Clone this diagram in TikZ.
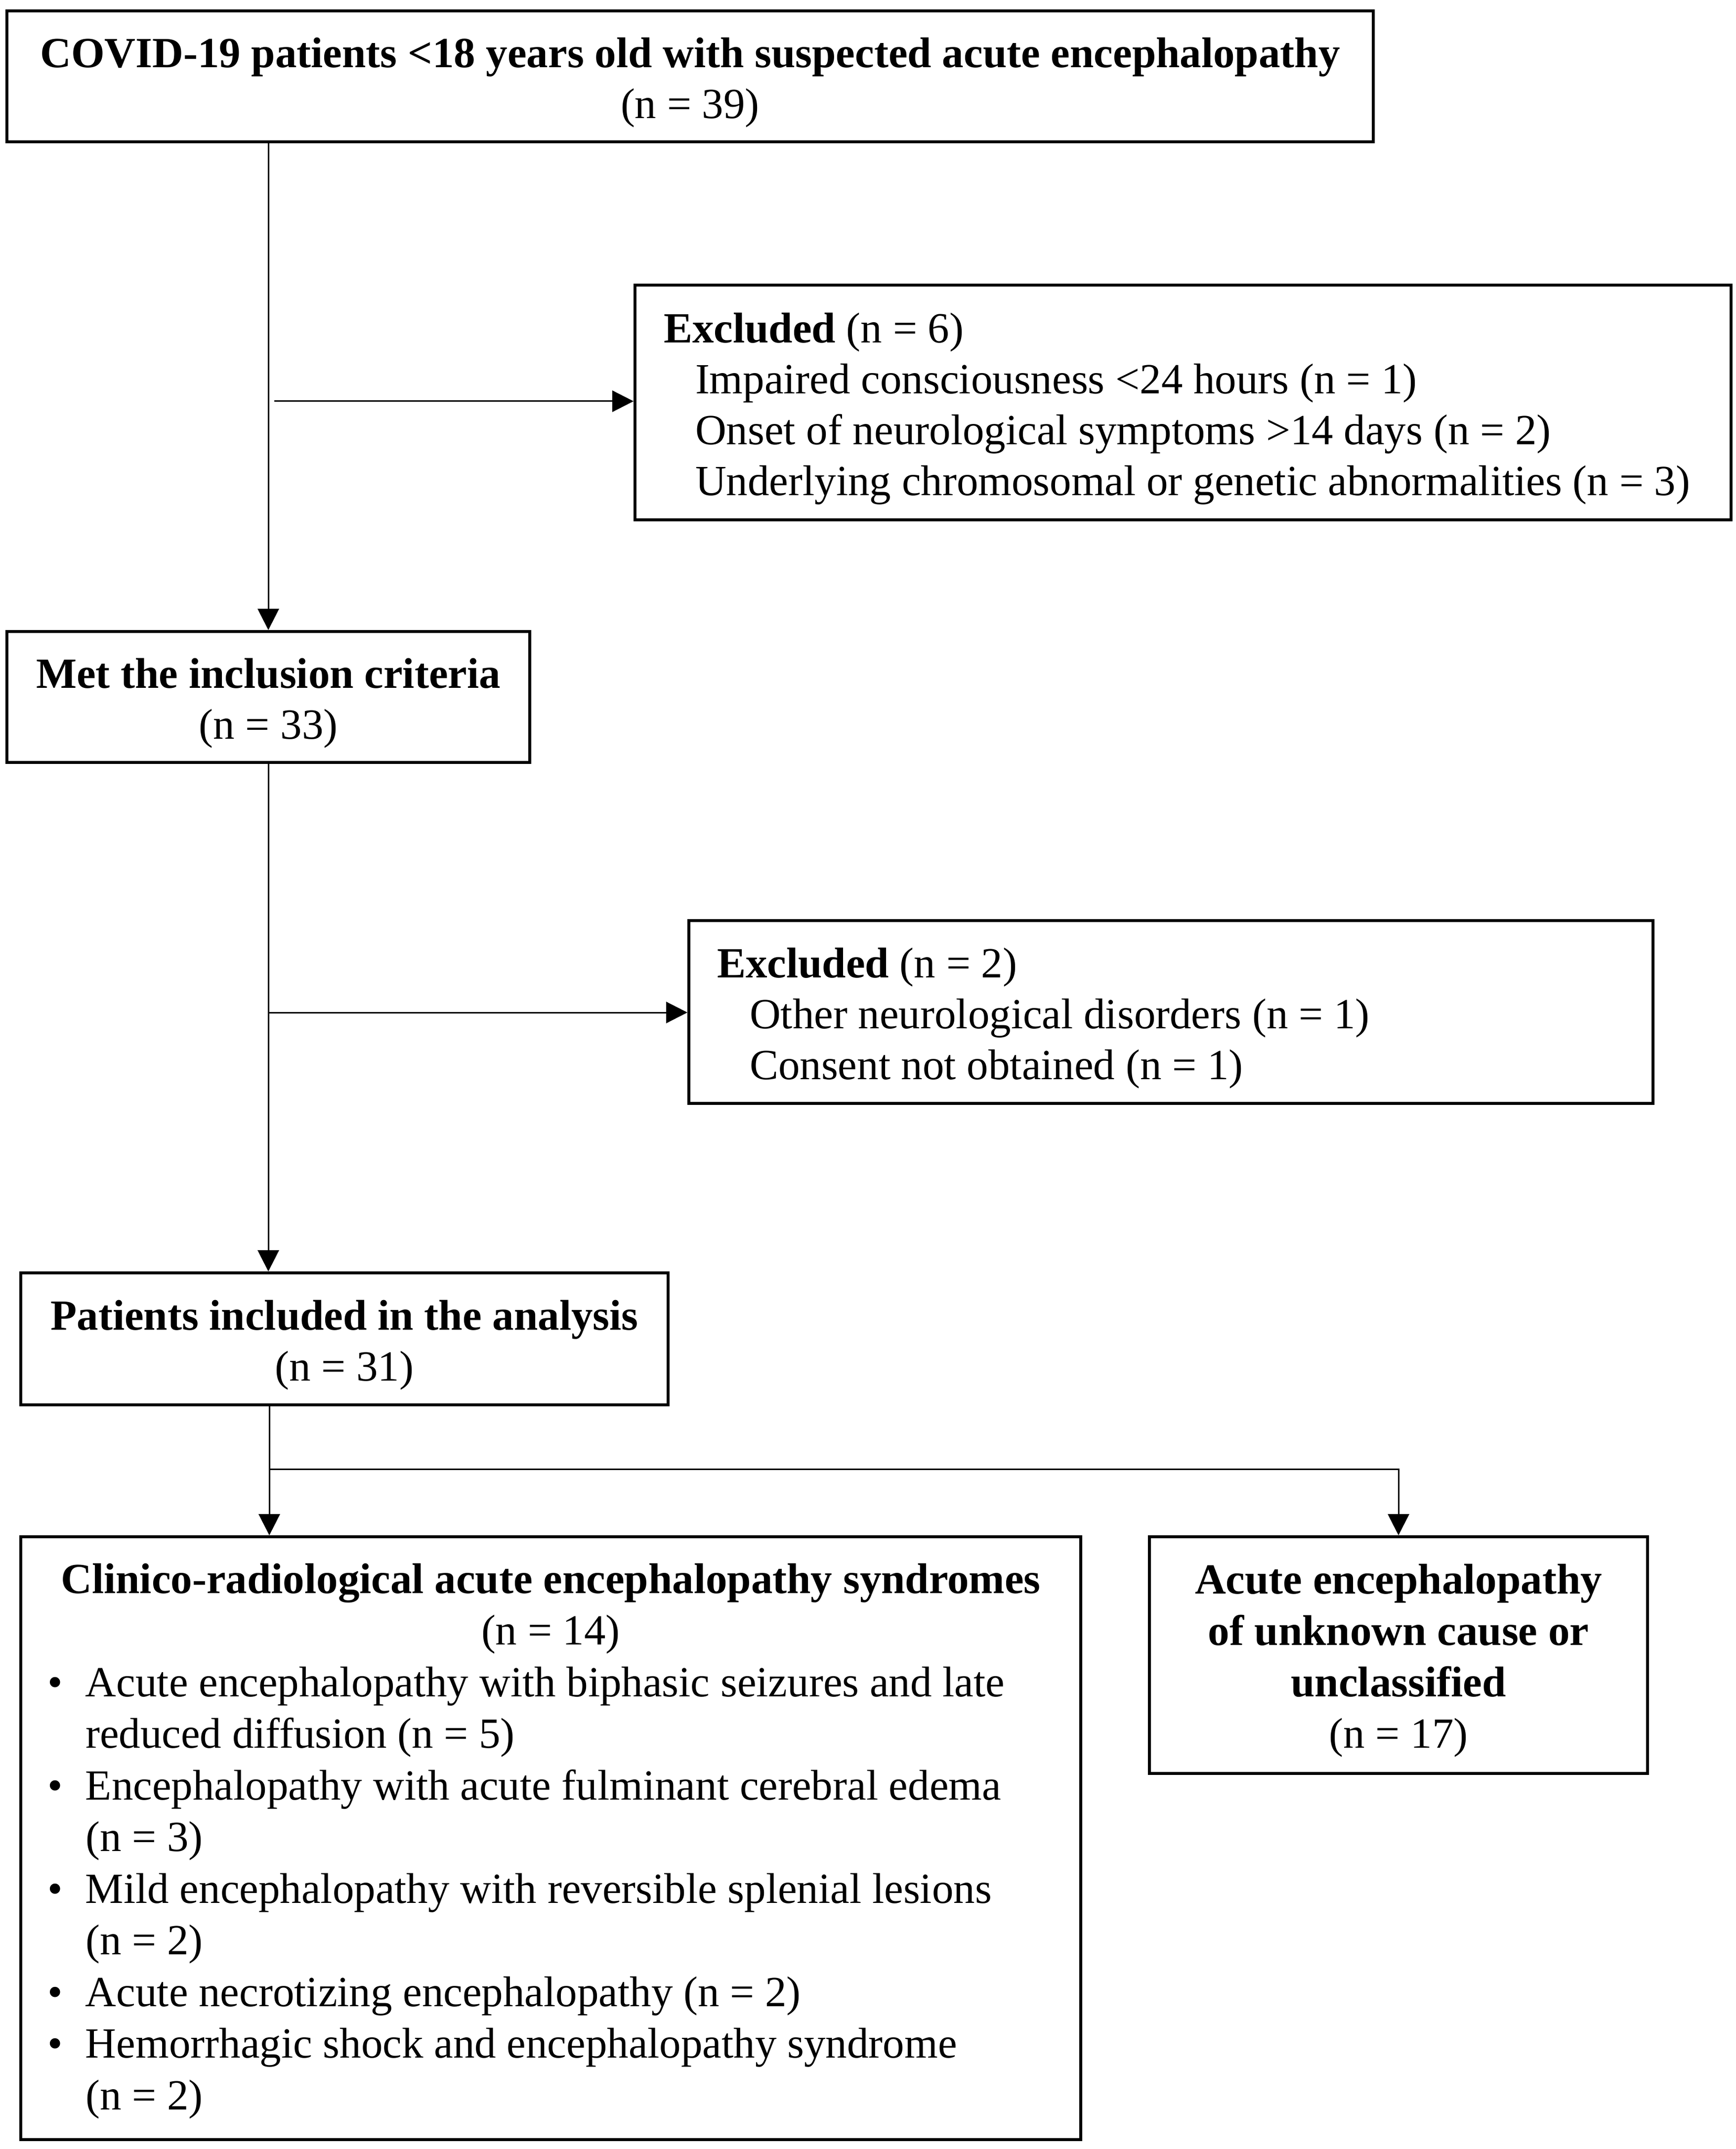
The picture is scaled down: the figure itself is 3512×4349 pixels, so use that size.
\documentclass[tikz,border=0pt]{standalone}
\usepackage{fontspec}
\setmainfont{Liberation Serif}
\usetikzlibrary{arrows.meta,calc}
\begin{document}
\begin{tikzpicture}[x=0.1pt,y=-0.1pt,
  frame/.style={draw, line width=0.6pt, inner sep=0pt},
  txt/.style={inner sep=0pt, font=\fontsize{8.7}{10.3}\selectfont},
  conn/.style={line width=0.3pt},
  arr/.style={conn, -{Triangle[length=4.3pt,width=4.3pt]}}]
\useasboundingbox (0,0) rectangle (3512,4349);
% boxes
\node[frame, minimum width=276.5pt, minimum height=26.5pt] (b1) at (1396.5,154.5) {};
\node[frame, minimum width=221.8pt, minimum height=47.5pt] (ex1) at (2394,814.5) {};
\node[frame, minimum width=105.8pt, minimum height=26.5pt] (b2) at (543,1410.5) {};
\node[frame, minimum width=195.1pt, minimum height=37pt] (ex2) at (2369.5,2048) {};
\node[frame, minimum width=131pt, minimum height=26.7pt] (b3) at (697,2709.5) {};
\node[frame, minimum width=214.5pt, minimum height=122pt] (b4) at (1114.5,3720) {};
\node[frame, minimum width=100.8pt, minimum height=47.9pt] (b5) at (2830,3349.5) {};
% texts
\node[txt, align=center] (b1t) at ($(b1.center)+(0,13)$)
  {\textbf{COVID-19 patients <18 years old with suspected acute encephalopathy}\\(n = 39)};
\node[txt, align=left, anchor=west] (ex1t) at ($(ex1.center -| 1341,0)+(0,13)$)
  {\textbf{Excluded} (n = 6)\\
   \hspace*{6.4pt}Impaired consciousness <24 hours (n = 1)\\
   \hspace*{6.4pt}Onset of neurological symptoms >14 days (n = 2)\\
   \hspace*{6.4pt}Underlying chromosomal or genetic abnormalities (n = 3)};
\node[txt, align=center] (b2t) at ($(b2.center)+(0,13)$)
  {\textbf{Met the inclusion criteria}\\(n = 33)};
\node[txt, align=left, anchor=west] (ex2t) at ($(ex2.center -| 1449,0)+(0,13)$)
  {\textbf{Excluded} (n = 2)\\
   \hspace*{6.6pt}Other neurological disorders (n = 1)\\
   \hspace*{6.6pt}Consent not obtained (n = 1)};
\node[txt, align=center] (b3t) at ($(b3.center)+(0,13)$)
  {\textbf{Patients included in the analysis}\\(n = 31)};
\node[txt, align=flush left, text width=203.7pt, font=\fontsize{8.7}{10.45}\selectfont] (b4t) at ($(b4.center)+(0,6)$)
  {{\centering\textbf{Clinico-radiological acute encephalopathy syndromes}\\(n = 14)\par}
   \raggedright
   \makebox[7.7pt][l]{\textbullet}Acute encephalopathy with biphasic seizures and late\\
   \hspace*{7.7pt}reduced diffusion (n = 5)\\
   \makebox[7.7pt][l]{\textbullet}Encephalopathy with acute fulminant cerebral edema\\
   \hspace*{7.7pt}(n = 3)\\
   \makebox[7.7pt][l]{\textbullet}Mild encephalopathy with reversible splenial lesions\\
   \hspace*{7.7pt}(n = 2)\\
   \makebox[7.7pt][l]{\textbullet}Acute necrotizing encephalopathy (n = 2)\\
   \makebox[7.7pt][l]{\textbullet}Hemorrhagic shock and encephalopathy syndrome\\
   \hspace*{7.7pt}(n = 2)};
\node[txt, align=center, font=\fontsize{8.7}{10.4}\selectfont] (b5t) at ($(b5.center)+(0,11)$)
  {\textbf{Acute encephalopathy}\\\textbf{of unknown cause or}\\\textbf{unclassified}\\(n = 17)};
% connectors
\coordinate (j1) at (555,812);
\coordinate (j2) at (542,2049);
\coordinate (j3) at (545,2973);
\draw[arr] (b1.south -| b2.north) -- (b2.north);
\draw[arr] (j1) -- (j1 -| ex1.west);
\draw[arr] (b2.south) -- (b2.south |- b3.north);
\draw[arr] (j2) -- (j2 -| ex2.west);
\draw[conn] (b3.south -| j3) -- (j3);
\draw[arr] (j3) -- (j3 |- b4.north);
\draw[arr] (j3) -| (b5.north);
\end{tikzpicture}
\end{document}
